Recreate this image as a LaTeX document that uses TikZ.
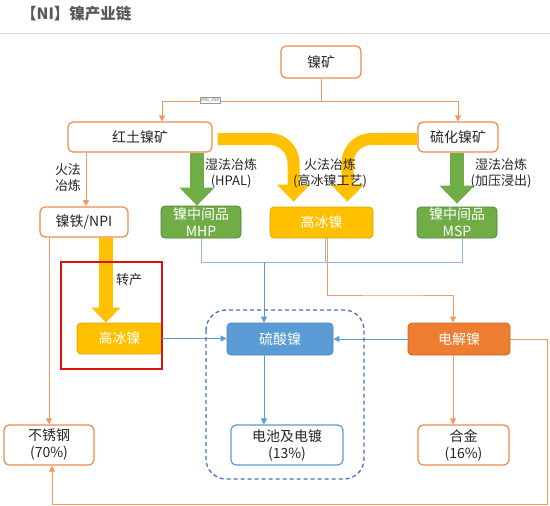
\documentclass[tikz,border=0pt]{standalone}
\usepackage{fontspec}
\setmainfont{Noto Sans CJK SC}
\usetikzlibrary{arrows.meta,positioning,calc}
\definecolor{ink}{HTML}{262626}
\definecolor{titlegray}{HTML}{595959}
\definecolor{orborder}{HTML}{EE8A4C}
\definecolor{orwire}{HTML}{F09A60}
\definecolor{grfill}{HTML}{70AD47}
\definecolor{grborder}{HTML}{548235}
\definecolor{yefill}{HTML}{FFC000}
\definecolor{yeborder}{HTML}{DDA500}
\definecolor{blfill}{HTML}{5B9BD5}
\definecolor{blborder}{HTML}{4A86C0}
\definecolor{blwire}{HTML}{8DB8E2}
\definecolor{orfill}{HTML}{ED7D31}
\definecolor{orfborder}{HTML}{C9661F}
\definecolor{dashblue}{HTML}{4472C4}
\definecolor{hlred}{HTML}{E01010}

\begin{document}
\begin{tikzpicture}[x=1pt, y=-1pt,
    every node/.style={inner sep=0pt, align=center, text=ink, font=\fontsize{14}{17}\selectfont},
    plainbox/.style={draw=orborder, line width=1.2pt, fill=white, rounded corners=5pt},
    outbox/.style={draw=blfill, line width=1.2pt, fill=white, rounded corners=5pt},
    greenbox/.style={draw=grborder, line width=0.8pt, fill=grfill, rounded corners=4pt, text=white},
    yellowbox/.style={draw=yeborder, line width=0.8pt, fill=yefill, rounded corners=4pt, text=white},
    bluebox/.style={draw=blborder, line width=0.8pt, fill=blfill, rounded corners=4pt, text=white},
    orangebox/.style={draw=orfborder, line width=0.8pt, fill=orfill, rounded corners=4pt, text=white},
    lbl/.style={font=\fontsize{13}{16}\selectfont},
    orarrow/.style={draw=orwire, line width=1pt, -{Triangle[length=6pt,width=6pt]}},
    blarrow/.style={draw=blfill, line width=1pt, -{Triangle[length=6pt,width=6pt]}},
    blwireline/.style={draw=blwire, line width=1pt},
    fatgreen/.style={draw=grfill, line width=14pt, -{Triangle[length=18pt,width=34pt]}},
    fatyellow/.style={draw=yefill, line width=12pt, rounded corners=24pt, -{Triangle[length=17pt,width=32pt]}},
    fatdrop/.style={draw=yefill, line width=14pt, -{Triangle[length=15pt,width=28pt]}}
]
    \useasboundingbox[fill=white] (0,0) rectangle (550,506);

    % Title
    \node[anchor=west, text=titlegray, font=\fontsize{15.5}{18}\selectfont\bfseries] (title) at (21,14) {【NI】镍产业链};
    \draw[black!15, line width=1pt] (0,33) -- (550,33);

    % Ores
    \node[plainbox, minimum width=80pt, minimum height=32pt] (ore) at (321,62) {镍矿};
    \node[plainbox, minimum width=144pt, minimum height=30pt] (laterite) at (140,137) {红土镍矿};
    \node[plainbox, minimum width=80pt, minimum height=30pt] (sulfide) at (458,137) {硫化镍矿};

    % Intermediates
    \node[plainbox, minimum width=88pt, minimum height=30pt] (npi) at (84,222) {镍铁/NPI};
    \node[greenbox, minimum width=80pt, minimum height=32pt] (mhp) at (201,222) {镍中间品\\MHP};
    \node[yellowbox, minimum width=103pt, minimum height=31pt] (matte) at (321.5,222.5) {高冰镍};
    \node[greenbox, minimum width=80pt, minimum height=31pt] (msp) at (457,222.5) {镍中间品\\MSP};

    % Refined
    \node[yellowbox, minimum width=85pt, minimum height=31pt] (mattetwo) at (119.5,338.5) {高冰镍};
    \node[bluebox, minimum width=106pt, minimum height=32pt] (sulfate) at (280,339) {硫酸镍};
    \node[orangebox, minimum width=102pt, minimum height=32pt] (cathode) at (459,339) {电解镍};

    % End uses
    \node[plainbox, minimum width=90pt, minimum height=40pt] (steel) at (49,445) {不锈钢\\(70\%)};
    \node[outbox, minimum width=112pt, minimum height=40pt] (battery) at (287,445) {电池及电镀\\(13\%)};
    \node[plainbox, minimum width=91pt, minimum height=40pt] (alloy) at (463.5,445) {合金\\(16\%)};

    % Ore split
    \coordinate (split) at (321,101);
    \draw[orwire, line width=1pt] (ore.south) -- (split);
    \draw[orarrow] (split) -| ([xshift=22pt]laterite.north);
    \draw[orarrow] (split) -| (sulfide.north);
    \node[draw=black!40, line width=0.4pt, fill=white, inner sep=1pt, text=black!60, font=\fontsize{4.5}{5}\selectfont] (imgtag) at (210,100) {IMG\_256};

    % Smelting routes
    \draw[orarrow] (laterite.south -| 86,0) -- (86,206);
    \node[lbl] (pyro) at (68,178) {火法\\冶炼};
    \draw[fatgreen] ([xshift=-4pt]mhp.north |- laterite.south) -- ([xshift=-4pt]mhp.north);
    \node[lbl, anchor=west] (hpal) at (205,173) {湿法冶炼\\(HPAL)};
    \draw[fatyellow] ([xshift=5pt,yshift=-2pt]laterite.east) -| ([xshift=-28pt,yshift=5pt]matte.north);
    \draw[fatyellow] ([yshift=-2pt]sulfide.west) -| ([xshift=26pt,yshift=5pt]matte.north);
    \node[lbl] (mattelbl) at (330,173) {火法冶炼\\(高冰镍工艺)};
    \draw[fatgreen] (msp.north |- sulfide.south) -- ([yshift=3pt]msp.north);
    \node[lbl] (leach) at (501,173) {湿法冶炼\\(加压浸出)};

    % Conversion
    \draw[fatdrop] ([xshift=22pt]npi.south) -- ([xshift=22pt]npi.south |- mattetwo.north);
    \node[lbl] (convert) at (129,280) {转产};
    \draw[hlred, line width=2pt] (61,262) rectangle (162,369);

    % To sulfate
    \coordinate (bus) at (264,262);
    \draw[blwireline] (mhp.south) |- (bus);
    \draw[blwireline] ([xshift=5pt]msp.south) |- (bus);
    \draw[blwireline] ([xshift=4pt]matte.south) -- ([xshift=4pt]matte.south |- bus);
    \draw[blarrow] (bus) -- (bus |- sulfate.north);
    \draw[orarrow] ([xshift=6pt]matte.south) |- (395,295) -| ([xshift=-6pt]cathode.north);
    \draw[blarrow] (mattetwo.east) -- (mattetwo.east -| sulfate.west);
    \draw[blarrow] (cathode.west) -- (sulfate.east);
    \draw[dashblue, line width=1.3pt, dash pattern=on 4pt off 3pt, rounded corners=20pt] (206,310) rectangle (364,479);

    % To end uses
    \draw[orarrow] (steel.north |- npi.south) -- (steel.north);
    \draw[blarrow] (bus |- sulfate.south) -- (bus |- battery.north);
    \draw[orarrow] ([xshift=-6pt]cathode.south) -- ([xshift=-6pt]cathode.south |- alloy.north);
    \coordinate (loop) at (547,504);
    \draw[orarrow] (cathode.east) -| (loop) -| ([xshift=3pt]steel.south);
\end{tikzpicture}
\end{document}
